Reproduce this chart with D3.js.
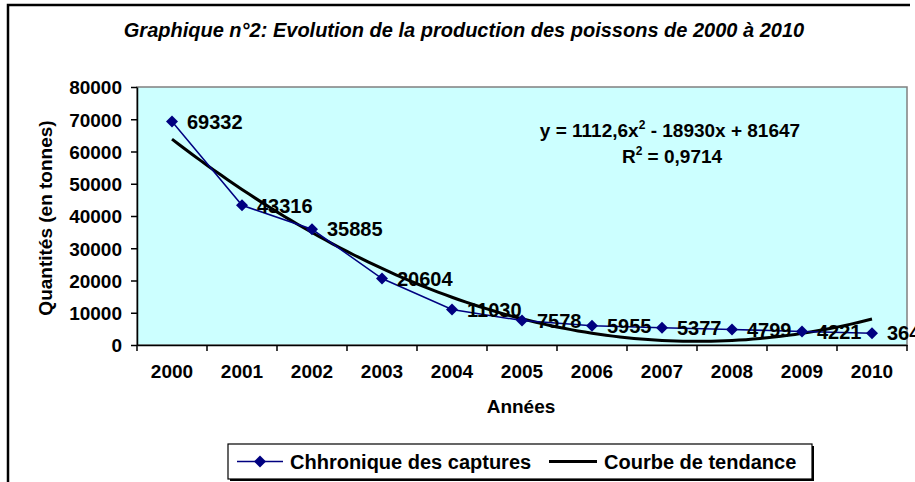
<!DOCTYPE html>
<html lang="fr">
<head>
    <meta charset="UTF-8">
    <title>Graphique n°2</title>
    <script src="https://d3js.org/d3.v7.min.js"></script>
    <style>
        body { margin: 0; background: #fff; }
        svg { display: block; font-family: "Liberation Sans", Arial, sans-serif; }
        .axis text { font-size: 19px; font-weight: bold; fill: #000; }
        .axis path, .axis line { stroke: #000; stroke-width: 1.5px; }
        .lbl { font-size: 19px; font-weight: bold; fill: #000; }
        .val, .leg { font-size: 20px; }
    </style>
</head>
<body>
    <svg id="chart" width="915" height="482"></svg>

    <script>
        // données
        const years = ["2000", "2001", "2002", "2003", "2004", "2005", "2006", "2007", "2008", "2009", "2010"];
        const captures = [69332, 43316, 35885, 20604, 11030, 7578, 5955, 5377, 4799, 4221, 3643];
        // tendance polynomiale (ordre 2) : y = c0 + c1*x + c2*x²
        const trendCoefs = [81647, -18930, 1112.6];
        const yTicks = [0, 10000, 20000, 30000, 40000, 50000, 60000, 70000, 80000];

        const svg = d3.select("#chart");
        const plot = { left: 137, right: 907, top: 87, bottom: 345 };

        // cadre extérieur
        svg.append("path")
            .attr("d", "M8,482 L8,5 L910,5")
            .attr("fill", "none")
            .attr("stroke", "#000")
            .attr("stroke-width", 2.5);

        // titre
        svg.append("text")
            .attr("x", 464)
            .attr("y", 37)
            .attr("text-anchor", "middle")
            .style("font-size", "20px")
            .style("font-weight", "bold")
            .style("font-style", "italic")
            .text("Graphique n°2: Evolution de la production des poissons de 2000 à 2010");

        const x = d3.scaleBand()
            .domain(years)
            .range([plot.left, plot.right]);
        const cx = d => x(d) + x.bandwidth() / 2;
        const xi = d3.scaleLinear()
            .domain([1, years.length])
            .range([cx(years[0]), cx(years[years.length - 1])]);
        const y = d3.scaleLinear()
            .domain([0, 80000])
            .range([plot.bottom, plot.top]);

        // zone de traçage
        svg.append("rect")
            .attr("x", plot.left)
            .attr("y", plot.top)
            .attr("width", plot.right - plot.left)
            .attr("height", plot.bottom - plot.top)
            .attr("fill", "#ccffff")
            .attr("stroke", "#808080")
            .attr("stroke-width", 1.5);

        // axes
        svg.append("g")
            .attr("class", "axis")
            .attr("transform", `translate(${plot.left},0)`)
            .call(d3.axisLeft(y).tickValues(yTicks).tickFormat(d3.format("d")).tickSize(6).tickPadding(9).tickSizeOuter(0))
            .call(g => g.selectAll(".tick text").attr("dy", "0.36em"));

        const xAxis = svg.append("g")
            .attr("class", "axis")
            .attr("transform", `translate(0,${plot.bottom})`)
            .call(d3.axisBottom(x).tickSize(0).tickPadding(20).tickSizeOuter(0));
        // graduations entre les catégories
        xAxis.selectAll(".sep")
            .data(d3.range(years.length + 1))
            .enter().append("line")
            .attr("class", "sep")
            .attr("x1", i => plot.left + i * x.bandwidth())
            .attr("x2", i => plot.left + i * x.bandwidth())
            .attr("y1", 0)
            .attr("y2", 6);

        // titres des axes
        svg.append("text")
            .attr("class", "lbl")
            .attr("transform", "translate(52,218) rotate(-90)")
            .attr("text-anchor", "middle")
            .text("Quantités (en tonnes)");
        svg.append("text")
            .attr("class", "lbl")
            .attr("x", 521)
            .attr("y", 413)
            .attr("text-anchor", "middle")
            .text("Années");

        // courbe de tendance
        const trend = t => trendCoefs[0] + trendCoefs[1] * t + trendCoefs[2] * t * t;
        const tPts = d3.range(1, years.length + 0.001, 0.1);
        svg.append("path")
            .datum(tPts)
            .attr("fill", "none")
            .attr("stroke", "#000")
            .attr("stroke-width", 3)
            .attr("d", d3.line().x(t => xi(t)).y(t => y(trend(t))));

        // série
        svg.append("path")
            .datum(captures)
            .attr("fill", "none")
            .attr("stroke", "#000080")
            .attr("stroke-width", 1.5)
            .attr("d", d3.line().x((d, i) => cx(years[i])).y(d => y(d)));

        const diamond = d3.symbol(d3.symbolSquare, 72);
        svg.selectAll(".pt")
            .data(captures)
            .enter().append("path")
            .attr("class", "pt")
            .attr("d", diamond)
            .attr("fill", "#000080")
            .attr("transform", (d, i) => `translate(${cx(years[i])},${y(d)}) rotate(45)`);

        svg.selectAll(".val")
            .data(captures)
            .enter().append("text")
            .attr("class", "lbl val")
            .attr("x", (d, i) => cx(years[i]) + 15)
            .attr("y", d => y(d))
            .attr("dy", "0.36em")
            .text(d => d);

        // équation
        const eq = svg.append("text")
            .attr("class", "lbl")
            .attr("x", 670)
            .attr("y", 137)
            .attr("text-anchor", "middle");
        eq.append("tspan").text("y = 1112,6x");
        eq.append("tspan").attr("dy", -8).style("font-size", "12px").text("2");
        eq.append("tspan").attr("dy", 8).text(" - 18930x + 81647");
        const r2 = svg.append("text")
            .attr("class", "lbl")
            .attr("x", 672)
            .attr("y", 163)
            .attr("text-anchor", "middle");
        r2.append("tspan").text("R");
        r2.append("tspan").attr("dy", -8).style("font-size", "12px").text("2");
        r2.append("tspan").attr("dy", 8).text(" = 0,9714");

        // légende
        const leg = { x: 228, y: 444, w: 584, h: 35 };
        svg.append("rect")
            .attr("x", leg.x + 2).attr("y", leg.y + 2)
            .attr("width", leg.w).attr("height", leg.h)
            .attr("fill", "#000");
        svg.append("rect")
            .attr("x", leg.x).attr("y", leg.y)
            .attr("width", leg.w).attr("height", leg.h)
            .attr("fill", "#fff")
            .attr("stroke", "#000")
            .attr("stroke-width", 1.2);
        const ly = leg.y + leg.h / 2;
        svg.append("line")
            .attr("x1", 237).attr("x2", 283).attr("y1", ly).attr("y2", ly)
            .attr("stroke", "#000080").attr("stroke-width", 1.5);
        svg.append("path")
            .attr("d", diamond)
            .attr("fill", "#000080")
            .attr("transform", `translate(260,${ly}) rotate(45)`);
        svg.append("text")
            .attr("class", "lbl leg")
            .attr("x", 290).attr("y", ly).attr("dy", "0.36em")
            .text("Chhronique des captures");
        svg.append("line")
            .attr("x1", 549).attr("x2", 597).attr("y1", ly).attr("y2", ly)
            .attr("stroke", "#000").attr("stroke-width", 3);
        svg.append("text")
            .attr("class", "lbl leg")
            .attr("x", 604).attr("y", ly).attr("dy", "0.36em")
            .text("Courbe de tendance");
    </script>
</body>
</html>
